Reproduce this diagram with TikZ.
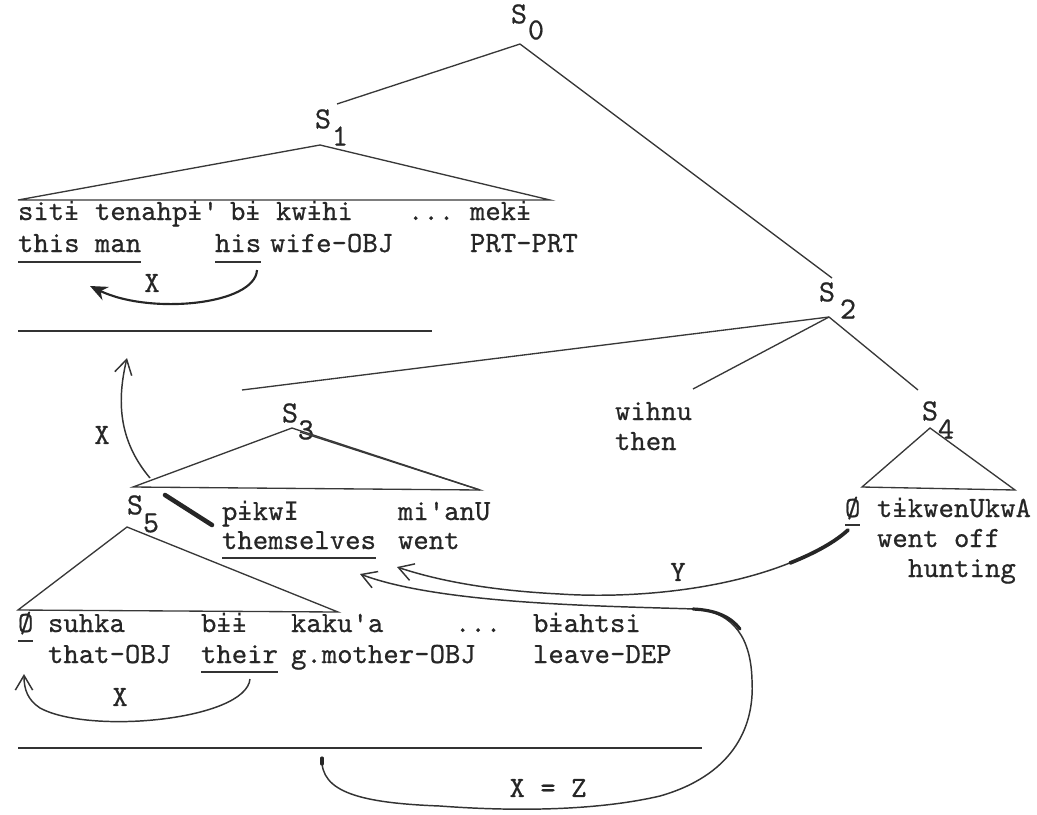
\documentclass[tikz,border=0pt]{standalone}
\usepackage{fontspec}
\setmonofont[FakeBold=0.6]{lmmono10-regular.otf}
\newfontfamily\ipa[Scale=0.87]{DejaVu Sans Mono}
\newcommand\bi{{\ipa ɨ}}
\newcommand\bI{{\ipa Ɨ}}
\usetikzlibrary{arrows.meta,calc}
\tikzset{
  ink/.style={draw=black!78, line width=1pt},
  w/.style={anchor=base west, inner sep=0pt, outer sep=0pt, font=\ttfamily\fontsize{22}{26}\selectfont, text=black!85},
  lab/.style={anchor=center, inner sep=0pt, outer sep=0pt, font=\ttfamily\fontsize{23}{26}\selectfont, text=black!85},
  ul/.style={draw=black!80, line width=1.1pt},
  arr/.style={draw=black!80, line width=1.1pt, -{Straight Barb[length=11pt,width=13pt,line width=1.1pt]}},
  thick arr/.style={draw=black!85, line width=1.6pt, -{Stealth[length=13pt,width=11pt]}},
  accent/.style={draw=black!85, line cap=round},
}
\begin{document}
\begin{tikzpicture}[x=0.75pt,y=-0.75pt]
\useasboundingbox (0,0) rectangle (1037,814);
% ---------- S labels ----------
\node[lab] (s0) at (519,14) {S};  \node[lab] (s0n) at (536,30) {0};
\node[lab] (s1) at (323,119) {S}; \node[lab] (s1n) at (340,136) {1};
\node[lab] (s2) at (827,292) {S}; \node[lab] (s2n) at (848,309) {2};
\node[lab] (s3) at (290,413) {S}; \node[lab] (s3n) at (306,430) {3};
\node[lab] (s4) at (930,411) {S}; \node[lab] (s4n) at (946,429) {4};
\node[lab] (s5) at (135,505) {S}; \node[lab] (s5n) at (151,523) {5};
% ---------- tree vertices ----------
\coordinate (v0) at (520,44);
\coordinate (v0l) at (337,104);
\coordinate (v0r) at (832,278);
\coordinate (v1) at (320,145);
\coordinate (t1l) at (18,200);
\coordinate (t1r) at (550,200);
\coordinate (v2) at (829,317);
\coordinate (v2l) at (242,390);
\coordinate (v2m) at (693,389);
\coordinate (v2r) at (918,390);
\coordinate (v4) at (930,428);
\coordinate (t4l) at (862,487);
\coordinate (t4r) at (1015,490);
\coordinate (v3) at (292,428);
\coordinate (v3b) at (300,432);
\coordinate (t3l) at (133,487);
\coordinate (t3r) at (480,490);
\coordinate (v5) at (127,527);
\coordinate (t5l) at (18,610);
\coordinate (t5r) at (338,612);
\draw[ink] (v0) -- (v0l);
\draw[ink] (v0) -- (v0r);
\draw[ink] (t1l) -- (v1) -- (t1r) -- cycle;
\draw[ink] (v2) -- (v2l);
\draw[ink] (v2) -- (v2m);
\draw[ink] (v2) -- (v2r);
\draw[ink] (t4l) -- (v4) -- (t4r) -- cycle;
\draw[ink] (t3l) -- (v3) -- (t3r) -- cycle;
\draw[ink] (v3b) -- (t3r);
\draw[ink] (t5l) -- (v5) -- (t5r) -- cycle;
% ---------- row A ----------
\node[w] (a1) at (18,220) {sit\bi};
\node[w] (a2) at (95,220) {tenahp\bi'};
\node[w] (a3) at (230,220) {b\bi};
\node[w] (a4) at (276,220) {kw\bi hi};
\node[w] (a5) at (408,220) {...};
\node[w] (a6) at (470,220) {mek\bi};
\node[w] (b1) at (18,252) {this man};
\node[w] (b3) at (215,252) {his};
\node[w] (b4) at (270,252) {wife-OBJ};
\node[w] (b6) at (470,252) {PRT-PRT};
\draw[ul] ($(b1.base west)+(0,10)$) -- ($(b1.base east)+(0,10)$);
\draw[ul] ($(b3.base west)+(0,10)$) -- ($(b3.base east)+(0,10)$);
\coordinate (xa) at (257,270);
\coordinate (xb) at (90,286);
\draw[thick arr] (xa) .. controls (255,305) and (150,315) .. (xb);
\node[w, anchor=center] (lx1) at (152,283) {X};
\coordinate (r1a) at (18,331);
\coordinate (r1b) at (432,331);
\draw[ul] (r1a) -- (r1b);
% ---------- wihnu ----------
\node[w] (c1) at (615,420) {wihnu};
\node[w] (c2) at (615,450) {then};
% ---------- S4 row ----------
\node[w] (d1) at (845,517) {Ø};
\node[w] (d2) at (877,517) {t\bi kwenUkwA};
\node[w] (d3) at (877,547) {went off};
\node[w] (d4) at (908,577) {hunting};
\draw[ul] ($(d1.base west)+(0,8)$) -- ($(d1.base east)+(0,8)$);
% ---------- S3 row ----------
\node[w] (e1) at (222,520) {p\bi kw\bI};
\node[w] (e2) at (398,520) {mi'anU};
\node[w] (e3) at (222,549) {themselves};
\node[w] (e4) at (398,549) {went};
\draw[ul] ($(e3.base west)+(0,9)$) -- ($(e3.base east)+(0,9)$);
\coordinate (k1) at (165,495);
\coordinate (k2) at (212,525);
\draw[accent, line width=3.4pt] (k1) -- (k2);
\coordinate (xc) at (150,478);
\coordinate (xd) at (127,358);
\draw[arr] (xc) .. controls (118,440) and (117,400) .. (xd);
\node[w, anchor=center] (lx2) at (102,435) {X};
% ---------- S5 row ----------
\node[w] (f1) at (18,632) {Ø};
\node[w] (f2) at (48,632) {suhka};
\node[w] (f3) at (201,632) {b\bi\bi};
\node[w] (f4) at (291,632) {kaku'a};
\node[w] (f5) at (455,632) {...};
\node[w] (f6) at (533,632) {b\bi ahtsi};
\node[w] (g2) at (48,663) {that-OBJ};
\node[w] (g3) at (201,663) {their};
\node[w] (g4) at (291,663) {g.mother-OBJ};
\node[w] (g6) at (533,663) {leave-DEP};
\draw[ul] ($(f1.base west)+(0,9)$) -- ($(f1.base east)+(0,9)$);
\draw[ul] ($(g3.base west)+(0,9)$) -- ($(g3.base east)+(0,9)$);
\coordinate (xe) at (250,679);
\coordinate (xf) at (24,674);
\draw[arr] (xe) .. controls (246,720) and (90,735) .. (40,708) .. controls (28,700) and (24,690) .. (xf);
\node[w, anchor=center] (lx3) at (120,697) {X};
\coordinate (r2a) at (18,748);
\coordinate (r2b) at (702,748);
\draw[ul] (r2a) -- (r2b);
% ---------- Y arrow ----------
\coordinate (ya) at (848,530);
\coordinate (yb) at (397,567);
\draw[arr] (ya) .. controls (780,585) and (650,600) .. (560,594) .. controls (480,590) and (430,578) .. (yb);
\draw[accent, line width=2.8pt] (ya) .. controls (835,542) and (815,553) .. (790,563);
\node[w, anchor=center] (ly) at (678,572) {Y};
% ---------- X = Z arrow ----------
\coordinate (za) at (322,758);
\coordinate (zb) at (360,574);
\draw[arr] (za) .. controls (320,792) and (360,803) .. (440,806) .. controls (520,812) and (600,810) .. (660,796) .. controls (730,776) and (755,730) .. (752,680) .. controls (751,640) and (735,612) .. (695,609) .. controls (600,606) and (440,604) .. (zb);
\draw[accent, line width=2.4pt] (693,609) .. controls (716,610) and (731,617) .. (740,629);
\draw[accent, line width=2.4pt] (za) -- (322,764);
\node[w, anchor=center] (lz) at (548,788) {X = Z};
\end{tikzpicture}
\end{document}
